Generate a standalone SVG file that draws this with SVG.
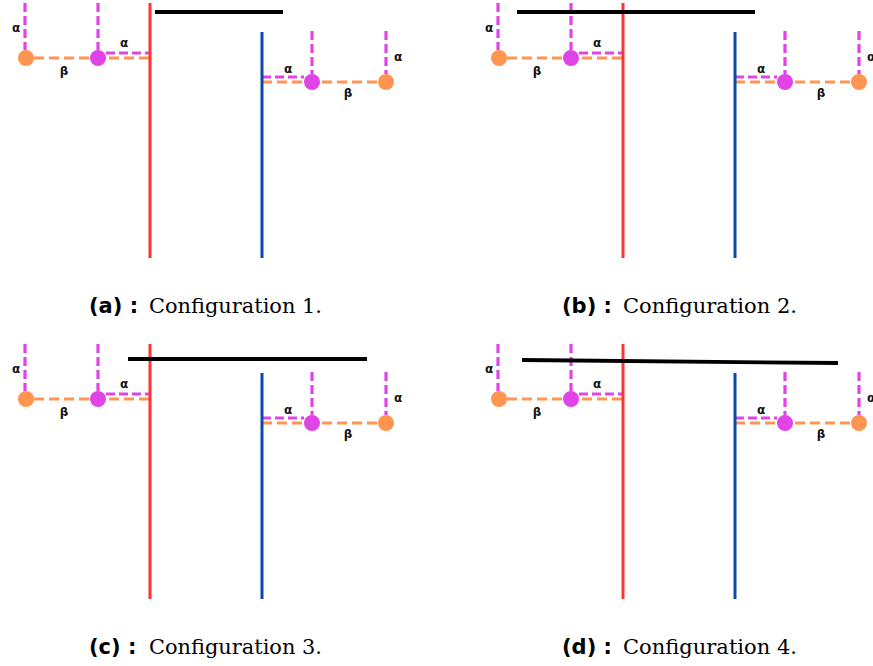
<svg xmlns="http://www.w3.org/2000/svg" xmlns:xlink="http://www.w3.org/1999/xlink" width="873" height="666" viewBox="0 0 873 666">
  <style>
    .wall-red { stroke: #ff3535; stroke-width: 3; fill: none; }
    .wall-blue { stroke: #0a4aa8; stroke-width: 3; fill: none; }
    .bar { stroke: #000; stroke-width: 3.8; fill: none; stroke-linecap: butt; }
    .dash-m { stroke: #e044e6; stroke-width: 3.2; fill: none; stroke-dasharray: 9 4; }
    .dash-o { stroke: #ff9550; stroke-width: 3.2; fill: none; stroke-dasharray: 10 5; }
    .dot-o { fill: #ff9550; }
    .dot-m { fill: #e044e6; }
    .lbl { font-family: "DejaVu Sans", sans-serif; font-weight: bold; font-size: 12px; text-anchor: middle; fill: #111; }
    .cap-tag { font-family: "DejaVu Sans", sans-serif; font-weight: bold; font-size: 21px; fill: #000; }
    .cap-txt { font-family: "DejaVu Serif", "Liberation Serif", serif; font-size: 20px; fill: #000; }
  </style>
  <rect width="873" height="666" fill="#fff"/>

  <!-- Shared arrangement: two walls, dashed links and the four joints -->
  <defs>
    <g id="layout">
      <g id="links">
        <path class="dash-m" d="M25 3 V50"/>
        <path class="dash-m" d="M98 3 V50"/>
        <path class="dash-o" d="M34 58 H150"/>
        <path class="dash-m" d="M106 53 H150"/>
        <path class="dash-m" d="M262 77 H304"/>
        <path class="dash-o" d="M262 82 H378"/>
        <path class="dash-m" d="M312 31 V74"/>
        <path class="dash-m" d="M386 31 V74"/>
      </g>
      <g id="wall-left"><path class="wall-red" d="M150 3 V258"/></g>
      <g id="wall-right"><path class="wall-blue" d="M262 32 V258"/></g>
      <g id="joint-l-outer"><circle class="dot-o" cx="26" cy="58" r="8"/></g>
      <g id="joint-l-inner"><circle class="dot-m" cx="98" cy="58" r="8"/></g>
      <g id="joint-r-inner"><circle class="dot-m" cx="312" cy="82" r="8"/></g>
      <g id="joint-r-outer"><circle class="dot-o" cx="386" cy="82" r="8"/></g>
      <g id="labels">
        <text class="lbl" x="16" y="32">α</text>
        <text class="lbl" x="124" y="47">α</text>
        <text class="lbl" x="64" y="75">β</text>
        <text class="lbl" x="288" y="73">α</text>
        <text class="lbl" x="398" y="61">α</text>
        <text class="lbl" x="348" y="97">β</text>
      </g>
    </g>
  </defs>

  <!-- (a) -->
  <g id="panel-a">
    <use xlink:href="#layout"/>
    <g id="bar-a"><path class="bar" d="M155 12 H283"/></g>
    <g id="caption-a">
      <text class="cap-tag" x="89" y="313">(a) :</text>
      <text class="cap-txt" x="149" y="313" textLength="173" lengthAdjust="spacingAndGlyphs">Configuration 1.</text>
    </g>
  </g>

  <!-- (b) -->
  <g id="panel-b" transform="translate(473,0)">
    <use xlink:href="#layout"/>
    <g id="bar-b"><path class="bar" d="M44 12 H282"/></g>
    <g id="caption-b">
      <text class="cap-tag" x="89" y="313">(b) :</text>
      <text class="cap-txt" x="150" y="313" textLength="174" lengthAdjust="spacingAndGlyphs">Configuration 2.</text>
    </g>
  </g>

  <!-- (c) -->
  <g id="panel-c" transform="translate(0,341)">
    <use xlink:href="#layout"/>
    <g id="bar-c"><path class="bar" d="M128 18 H367"/></g>
    <g id="caption-c">
      <text class="cap-tag" x="89" y="313">(c) :</text>
      <text class="cap-txt" x="149" y="313" textLength="173" lengthAdjust="spacingAndGlyphs">Configuration 3.</text>
    </g>
  </g>

  <!-- (d) -->
  <g id="panel-d" transform="translate(473,341)">
    <use xlink:href="#layout"/>
    <g id="bar-d"><path class="bar" d="M49 19 L365 22"/></g>
    <g id="caption-d">
      <text class="cap-tag" x="89" y="313">(d) :</text>
      <text class="cap-txt" x="150" y="313" textLength="174" lengthAdjust="spacingAndGlyphs">Configuration 4.</text>
    </g>
  </g>
</svg>
